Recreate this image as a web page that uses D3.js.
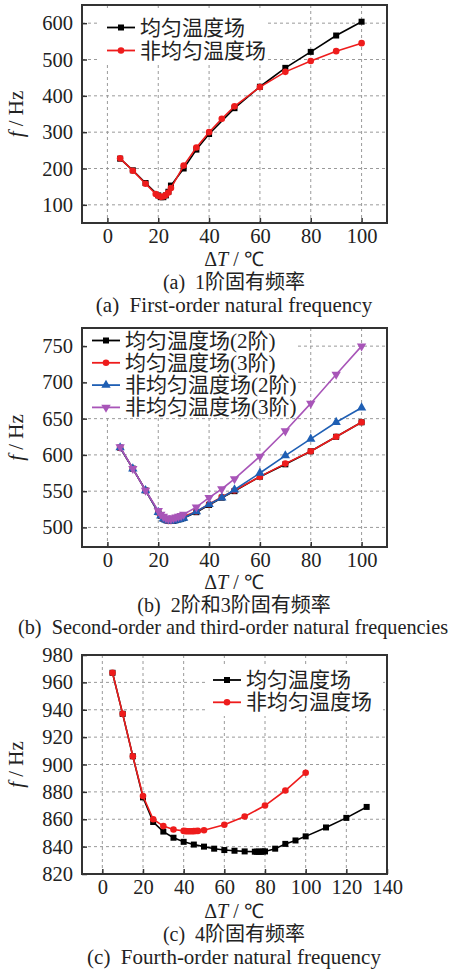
<!DOCTYPE html>
<html>
<head>
<meta charset="utf-8">
<script src="https://cdn.jsdelivr.net/npm/d3@7"></script>
<style>
  html, body { margin: 0; padding: 0; background: #fff; }
  svg { display: block; }
</style>
</head>
<body>
<svg id="chart" width="462" height="970"></svg>
<script>
// ---------- DATA ----------
// Panel (a): first-order natural frequency
const aUniformX = [5, 10, 15, 20, 21, 22, 23, 24, 25, 30, 35, 40, 50, 60, 70, 80, 90, 100];
const aUniformY = [227, 195, 160, 126, 121, 121, 126, 136, 153, 200, 252, 295, 366, 425, 477, 521, 566, 604];
const aNonUniX = [5, 10, 15, 19, 20, 21, 22, 23, 24, 25, 30, 35, 40, 45, 50, 60, 70, 80, 90, 100];
const aNonUniY = [228, 194, 158, 130, 125, 122, 123, 127, 134, 146, 208, 258, 300, 337, 371, 424, 466, 496, 523, 545];
const aLabels = ["均匀温度场", "非均匀温度场"];
const aXTicks = [0, 20, 40, 60, 80, 100];
const aYTicks = [100, 200, 300, 400, 500, 600];

// Panel (b): second- and third-order natural frequencies
const bX = [5, 10, 15, 20, 21, 22, 23, 24, 25, 26, 27, 28, 29, 30, 35, 40, 45, 50, 60, 70, 80, 90, 100];
const bUniform2 = [610, 581, 551, 521, 516, 512, 510, 509, 509, 509, 510, 511, 512, 513, 521, 531, 541, 550, 570, 587, 605, 625, 645];
const bUniform3 = [610, 581, 551, 521, 516, 512, 510, 509, 509, 510, 511, 512, 513, 515, 522, 532, 542, 551, 570, 588, 605, 625, 645];
const bNonUni2 = [610, 581, 551, 521, 516, 512, 510, 509, 509, 509, 510, 511, 512, 513, 522, 532, 541, 552, 575, 599, 622, 645, 665];
const bNonUni3 = [611, 581, 551, 523, 518, 515, 513, 512, 512, 513, 514, 515, 516, 518, 528, 541, 553, 567, 598, 633, 671, 711, 750];
const bLabels = ["均匀温度场(2阶)", "均匀温度场(3阶)", "非均匀温度场(2阶)", "非均匀温度场(3阶)"];
const bXTicks = [0, 20, 40, 60, 80, 100];
const bYTicks = [500, 550, 600, 650, 700, 750];

// Panel (c): fourth-order natural frequency
const cUniformX = [5, 10, 15, 20, 25, 30, 35, 40, 45, 50, 55, 60, 65, 70, 75, 76, 77, 78, 79, 80, 85, 90, 95, 100, 110, 120, 130];
const cUniformY = [967, 937, 906, 876, 858, 851, 846.5, 843.5, 841.5, 840, 838.5, 837.5, 837, 836.5, 836.3, 836.3, 836.3, 836.3, 836.4, 836.5, 838.5, 842, 844.5, 847.5, 854, 861, 869];
const cNonUniX = [5, 10, 15, 20, 25, 30, 35, 40, 41, 42, 43, 44, 45, 46, 47, 50, 60, 70, 80, 90, 100];
const cNonUniY = [967, 937, 906, 877, 860, 855, 852.5, 851.5, 851.3, 851.2, 851.2, 851.2, 851.3, 851.4, 851.5, 852, 856, 862, 870, 881, 894];
const cLabels = ["均匀温度场", "非均匀温度场"];
const cXTicks = [0, 20, 40, 60, 80, 100, 120, 140];
const cYTicks = [820, 840, 860, 880, 900, 920, 940, 960, 980];

// ---------- DRAWING ----------
const SERIF = '"Liberation Serif", "Times New Roman", serif';
const CJK = '"Liberation Serif", "Noto Sans CJK SC", serif';
const svg = d3.select("#chart");
const plotLeft = 82, plotRight = 387;

function marker(g, type, color, x, y) {
  if (type === "square") {
    g.append("rect").attr("x", x - 3).attr("y", y - 3).attr("width", 6).attr("height", 6).attr("fill", color);
  } else if (type === "circle") {
    g.append("circle").attr("cx", x).attr("cy", y).attr("r", 3.3).attr("fill", color);
  } else if (type === "up") {
    g.append("path").attr("d", d3.symbol(d3.symbolTriangle, 38)()).attr("transform", `translate(${x},${y})`).attr("fill", color);
  } else if (type === "down") {
    g.append("path").attr("d", d3.symbol(d3.symbolTriangle, 38)()).attr("transform", `translate(${x},${y}) rotate(180)`).attr("fill", color);
  }
}

function panel(cfg) {
  const x = d3.scaleLinear().domain(cfg.xDomain).range([plotLeft, plotRight]);
  const y = d3.scaleLinear().domain(cfg.yDomain).range([cfg.bottom, cfg.top]);
  const g = svg.append("g");

  // grid
  g.append("g").selectAll("line").data(cfg.xTicks).join("line")
    .attr("x1", d => x(d)).attr("x2", d => x(d)).attr("y1", cfg.top).attr("y2", cfg.bottom)
    .attr("stroke", "#9a9a9a").attr("stroke-width", 1).attr("stroke-dasharray", "3,3");
  g.append("g").selectAll("line").data(cfg.yTicks).join("line")
    .attr("x1", plotLeft).attr("x2", plotRight).attr("y1", d => y(d)).attr("y2", d => y(d))
    .attr("stroke", "#9a9a9a").attr("stroke-width", 1).attr("stroke-dasharray", "3,3");

  // legend background box
  g.append("rect").attr("x", cfg.legendBox[0]).attr("y", cfg.legendBox[1])
    .attr("width", cfg.legendBox[2]).attr("height", cfg.legendBox[3]).attr("fill", "#fff");

  // series
  const line = d3.line().x(d => x(d[0])).y(d => y(d[1]));
  cfg.series.forEach(s => {
    const pts = s.xs.map((v, i) => [v, s.ys[i]]);
    g.append("path").datum(pts).attr("d", line).attr("fill", "none")
      .attr("stroke", s.color).attr("stroke-width", 1.6);
    pts.forEach(p => marker(g, s.marker, s.color, x(p[0]), y(p[1])));
  });

  // legend
  cfg.series.forEach((s, i) => {
    const ly = cfg.legendY + i * cfg.legendStep;
    g.append("line").attr("x1", cfg.legendX).attr("x2", cfg.legendX + 28).attr("y1", ly).attr("y2", ly)
      .attr("stroke", s.color).attr("stroke-width", 1.8);
    marker(g, s.marker, s.color, cfg.legendX + 14, ly);
    g.append("text").style("font-family", CJK).attr("x", cfg.legendX + 33).attr("y", ly + 7)
      .style("font-size", cfg.legendFont + "px").attr("fill", "#222").text(s.label);
  });

  // axes (inward ticks)
  const xAxis = d3.axisBottom(x).tickValues(cfg.xTicks).tickSize(-5).tickPadding(5).tickFormat(d3.format("d"));
  const yAxis = d3.axisLeft(y).tickValues(cfg.yTicks).tickSize(-5).tickPadding(9).tickFormat(d3.format("d"));
  const xa = g.append("g").attr("transform", `translate(0,${cfg.bottom})`).call(xAxis);
  const ya = g.append("g").attr("transform", `translate(${plotLeft},0)`).call(yAxis);
  [xa, ya].forEach(a => {
    a.attr("font-family", null).attr("font-size", null);
    a.select(".domain").remove();
    a.selectAll(".tick line").attr("stroke", "#333").attr("stroke-width", 1.5);
    a.selectAll(".tick text").style("font-family", SERIF).style("font-size", "20.5px").attr("fill", "#222");
  });
  xa.selectAll(".tick text").attr("dy", "0.71em");

  // frame
  g.append("rect").attr("x", plotLeft).attr("y", cfg.top).attr("width", plotRight - plotLeft)
    .attr("height", cfg.bottom - cfg.top).attr("fill", "none").attr("stroke", "#333").attr("stroke-width", 2);

  // y label
  const yl = g.append("text").style("font-family", SERIF).style("font-size", "21px").attr("fill", "#222")
    .attr("text-anchor", "middle")
    .attr("transform", `translate(23,${(cfg.top + cfg.bottom) / 2}) rotate(-90)`);
  yl.append("tspan").attr("font-style", "italic").text("f");
  yl.append("tspan").text(" / Hz");

  // x label
  const xl = g.append("text").style("font-family", SERIF).style("font-size", "20px").attr("fill", "#222")
    .attr("text-anchor", "middle").attr("x", 234).attr("y", cfg.xTitleY);
  xl.append("tspan").text("Δ");
  xl.append("tspan").attr("font-style", "italic").text("T");
  xl.append("tspan").text(" / ℃");

  // captions
  g.append("text").style("font-family", CJK).style("font-size", "20px").attr("fill", "#222")
    .attr("text-anchor", "middle").attr("x", 234).attr("y", cfg.capY1).attr("xml:space", "preserve").text(cfg.cap1);
  g.append("text").style("font-family", SERIF).style("font-size", cfg.cap2Font + "px").attr("fill", "#222")
    .attr("text-anchor", "middle").attr("x", cfg.cap2X).attr("y", cfg.capY2).attr("xml:space", "preserve").text(cfg.cap2);
}

panel({
  xDomain: [-10, 110], yDomain: [50, 650], top: 5, bottom: 223,
  xTicks: aXTicks, yTicks: aYTicks,
  series: [
    { xs: aUniformX, ys: aUniformY, color: "#000000", marker: "square", label: aLabels[0] },
    { xs: aNonUniX, ys: aNonUniY, color: "#ee1c1c", marker: "circle", label: aLabels[1] }
  ],
  legendX: 107, legendY: 27.5, legendStep: 23, legendBox: [100, 9, 168, 54], legendFont: 21,
  xTitleY: 266, capY1: 289, capY2: 311.5, cap2X: 234, cap2Font: 21,
  cap1: "(a)  1阶固有频率", cap2: "(a)  First-order natural frequency"
});

panel({
  xDomain: [-10, 110], yDomain: [473, 775], top: 328, bottom: 547,
  xTicks: bXTicks, yTicks: bYTicks,
  series: [
    { xs: bX, ys: bUniform2, color: "#000000", marker: "square", label: bLabels[0] },
    { xs: bX, ys: bUniform3, color: "#ee1c1c", marker: "circle", label: bLabels[1] },
    { xs: bX, ys: bNonUni2, color: "#1f5fb4", marker: "up", label: bLabels[2] },
    { xs: bX, ys: bNonUni3, color: "#a855b8", marker: "down", label: bLabels[3] }
  ],
  legendX: 92, legendY: 340.5, legendStep: 22.3, legendBox: [88, 329, 210, 89], legendFont: 21,
  xTitleY: 589, capY1: 612, capY2: 634, cap2X: 233, cap2Font: 20.3,
  cap1: "(b)  2阶和3阶固有频率", cap2: "(b)  Second-order and third-order natural frequencies"
});

panel({
  xDomain: [-10, 140], yDomain: [820, 980], top: 655, bottom: 874,
  xTicks: cXTicks, yTicks: cYTicks,
  series: [
    { xs: cUniformX, ys: cUniformY, color: "#000000", marker: "square", label: cLabels[0] },
    { xs: cNonUniX, ys: cNonUniY, color: "#ee1c1c", marker: "circle", label: cLabels[1] }
  ],
  legendX: 213, legendY: 680, legendStep: 22.3, legendBox: [205, 664, 178, 52], legendFont: 21,
  xTitleY: 918, capY1: 941, capY2: 963.5, cap2X: 234, cap2Font: 21,
  cap1: "(c)  4阶固有频率", cap2: "(c)  Fourth-order natural frequency"
});
</script>
</body>
</html>
